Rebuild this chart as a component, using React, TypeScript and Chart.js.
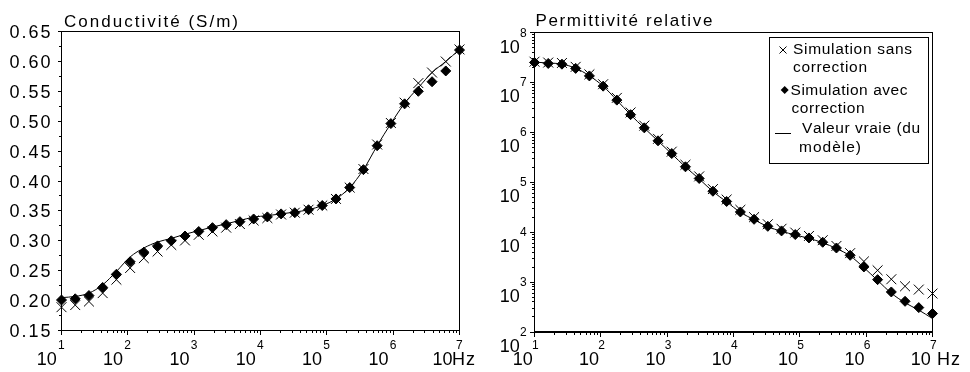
import React, { useEffect, useRef } from "react";
import { Chart, registerables } from "chart.js";

Chart.register(...registerables);

// ---------- DATA ----------
const FREQ_HZ = [
  10, 16.1, 25.93, 41.75, 67.23, 108.3, 174.3, 280.7, 452.0, 727.9,
  1172, 1887, 3039, 4894, 7880, 12690, 20434, 32903, 52983, 85317,
  137382, 221222, 356225, 573615, 923671, 1487352, 2395027, 3856620, 6210169, 10000000,
];

const COND_SANS = [
  0.189, 0.1925, 0.1985, 0.2125, 0.235, 0.2545, 0.271, 0.282, 0.293, 0.3005,
  0.31, 0.3155, 0.322, 0.328, 0.334, 0.338, 0.344, 0.347, 0.352, 0.359,
  0.37, 0.389, 0.42, 0.461, 0.497, 0.531, 0.5637, 0.5814, 0.5998, 0.62,
];
const COND_AVEC = [
  0.201, 0.203, 0.2085, 0.222, 0.244, 0.265, 0.281, 0.2915, 0.3, 0.308,
  0.3155, 0.322, 0.327, 0.332, 0.3365, 0.34, 0.345, 0.347, 0.352, 0.359,
  0.37, 0.389, 0.419, 0.459, 0.496, 0.529, 0.55, 0.566, 0.584, 0.619,
];
const COND_VRAIE = [
  0.205, 0.207, 0.2125, 0.2264, 0.2487, 0.273, 0.288, 0.298, 0.304, 0.311,
  0.317, 0.323, 0.3284, 0.334, 0.3396, 0.342, 0.345, 0.348, 0.352, 0.359,
  0.37, 0.389, 0.419, 0.459, 0.496, 0.53, 0.556, 0.5814, 0.5998, 0.62,
];

const PERM_SANS = [
  2.6e7, 2.5e7, 2.45e7, 2.05e7, 1.45e7, 9.2e6, 4.9e6, 2.5e6, 1.36e6, 7.4e5,
  4.1e5, 2.24e5, 1.31e5, 7.3e4, 4.5e4, 2.8e4, 2.0e4, 1.44e4, 1.17e4, 9800,
  8400, 6900, 5300, 3800, 2590, 1720, 1140, 824, 708, 589,
];
const PERM_AVEC = [
  2.51e7, 2.4e7, 2.32e7, 1.91e7, 1.35e7, 8.41e6, 4.42e6, 2.26e6, 1.23e6, 6.76e5,
  3.76e5, 2.04e5, 1.19e5, 6.61e4, 4.12e4, 2.54e4, 1.81e4, 1.31e4, 1.06e4, 8950,
  7660, 6280, 4820, 3440, 2010, 1120, 634, 412, 308, 234,
];
const PERM_VRAIE = [
  2.55e7, 2.45e7, 2.33e7, 1.92e7, 1.36e7, 8.4e6, 4.4e6, 2.25e6, 1.22e6, 6.7e5,
  3.7e5, 2.02e5, 1.17e5, 6.5e4, 4.05e4, 2.5e4, 1.78e4, 1.29e4, 1.04e4, 8800,
  7500, 6150, 4700, 3350, 1950, 1080, 600, 385, 275, 186,
];

const COND_TICKS = [0.15, 0.2, 0.25, 0.3, 0.35, 0.4, 0.45, 0.5, 0.55, 0.6, 0.65];
const COND_TICK_LABELS = ["0.15", "0.20", "0.25", "0.30", "0.35", "0.40", "0.45", "0.50", "0.55", "0.60", "0.65"];
const FREQ_EXPONENTS = [1, 2, 3, 4, 5, 6, 7];
const PERM_EXPONENTS = [2, 3, 4, 5, 6, 7, 8];

const TITLE_COND = "Conductivité (S/m)";
const TITLE_PERM = "Permittivité relative";
const UNIT_HZ = "Hz";
const LEGEND_SANS = ["Simulation sans", "correction"];
const LEGEND_AVEC = ["Simulation avec", "correction"];
const LEGEND_VRAIE = ["Valeur vraie (du", "modèle)"];

// ---------- DRAWING HELPERS ----------
const FONT = '"Liberation Sans", Arial, sans-serif';
const INK = "#000";

// draws text char by char; if fitWidth is given, spacing is chosen so the
// string spans that many pixels
function txt(
  ctx: CanvasRenderingContext2D,
  s: string,
  x: number,
  y: number,
  size: number,
  align: "left" | "right" = "left",
  fitWidth = 0
) {
  ctx.save();
  ctx.font = `${size}px ${FONT}`;
  ctx.textBaseline = "alphabetic";
  ctx.textAlign = "left";
  ctx.fillStyle = INK;
  const chars = Array.from(s);
  const widths = chars.map((c) => ctx.measureText(c).width);
  const natural = widths.reduce((a, b) => a + b, 0);
  const spacing = fitWidth > 0 && chars.length > 1 ? (fitWidth - natural) / (chars.length - 1) : 0;
  const total = natural + spacing * (chars.length - 1);
  let cx = align === "right" ? x - total : x;
  chars.forEach((c, i) => {
    ctx.fillText(c, cx, y);
    cx += widths[i] + spacing;
  });
  ctx.restore();
}

function hline(ctx: CanvasRenderingContext2D, x1: number, x2: number, y: number) {
  ctx.fillRect(Math.round(x1), Math.round(y - 0.5), Math.round(x2 - x1), 1);
}
function vline(ctx: CanvasRenderingContext2D, x: number, y1: number, y2: number) {
  ctx.fillRect(Math.round(x - 0.5), Math.round(y1), 1, Math.round(y2 - y1));
}

function drawLogXTicks(ctx: CanvasRenderingContext2D, xs: any, bottom: number) {
  FREQ_EXPONENTS.forEach((e) => {
    const maxM = e === FREQ_EXPONENTS[FREQ_EXPONENTS.length - 1] ? 1 : 9;
    for (let m = 1; m <= maxM; m++) {
      const px = xs.getPixelForValue(m * Math.pow(10, e));
      vline(ctx, px, bottom, bottom + (m === 1 ? 4 : 2));
    }
  });
}

function xy(vals: number[]) {
  return vals.map((v, i) => ({ x: FREQ_HZ[i], y: v }));
}

function datasets(sans: number[], avec: number[], vraie: number[]) {
  return [
    {
      label: "Simulation avec correction",
      data: xy(avec),
      showLine: false,
      pointStyle: "rectRot",
      pointRadius: 5,
      backgroundColor: INK,
      borderColor: INK,
      borderWidth: 1,
      clip: false,
    },
    {
      label: "Simulation sans correction",
      data: xy(sans),
      showLine: false,
      pointStyle: "crossRot",
      pointRadius: 7,
      backgroundColor: INK,
      borderColor: INK,
      borderWidth: 1,
      clip: false,
    },
    {
      label: "Valeur vraie (du modèle)",
      data: xy(vraie),
      showLine: true,
      pointRadius: 0,
      borderColor: INK,
      borderWidth: 1,
      cubicInterpolationMode: "monotone",
      clip: false,
    },
  ];
}

const W = 970;
const H = 372;

// ---------- LEFT CHART ----------
const leftPlugin = {
  id: "leftDeco",
  beforeDatasetsDraw(chart: any) {
    const ctx: CanvasRenderingContext2D = chart.ctx;
    const { left, right, top, bottom } = chart.chartArea;
    const xs = chart.scales.x;
    const ys = chart.scales.y;
    ctx.save();
    ctx.fillStyle = INK;
    hline(ctx, left - 0.5, right + 0.5, top);
    hline(ctx, left - 0.5, right + 0.5, bottom);
    vline(ctx, left, top - 0.5, bottom + 0.5);
    vline(ctx, right, top - 0.5, bottom + 0.5);
    for (let k = 0; k < COND_TICKS.length; k++) {
      const py = ys.getPixelForValue(COND_TICKS[k]);
      hline(ctx, left - 3.5, left, py);
      if (k < COND_TICKS.length - 1) {
        const pm = ys.getPixelForValue((COND_TICKS[k] + COND_TICKS[k + 1]) / 2);
        hline(ctx, left - 2.5, left, pm);
      }
    }
    drawLogXTicks(ctx, xs, bottom + 0.5);
    ctx.restore();

    COND_TICKS.forEach((v, k) => {
      const py = ys.getPixelForValue(v);
      txt(ctx, COND_TICK_LABELS[k], 50.5, py + 6.5, 18, "right", 41);
    });
    FREQ_EXPONENTS.forEach((e, k) => {
      const px = xs.getPixelForValue(Math.pow(10, e));
      const last = k === FREQ_EXPONENTS.length - 1;
      if (last) {
        txt(ctx, "10", px - 7, 365, 18, "right");
        txt(ctx, UNIT_HZ, px - 7.4, 365, 18, "left", 23);
      } else {
        txt(ctx, "10", px - 4.7, 365, 18, "right");
      }
      txt(ctx, String(e), px - 3.5, 348.5, 12, "left");
    });
    txt(ctx, TITLE_COND, 64, 27, 17, "left", 174);
  },
};

// ---------- RIGHT CHART ----------
const rightPlugin = {
  id: "rightDeco",
  beforeDatasetsDraw(chart: any) {
    const ctx: CanvasRenderingContext2D = chart.ctx;
    const { left, right, top, bottom } = chart.chartArea;
    const xs = chart.scales.x;
    const ys = chart.scales.y;
    ctx.save();
    ctx.fillStyle = INK;
    hline(ctx, left - 0.5, right + 0.5, top);
    vline(ctx, left, top - 0.5, bottom + 1);
    vline(ctx, right, top - 0.5, bottom + 1);
    ctx.fillRect(Math.round(left - 0.5), Math.round(bottom - 1), Math.round(right - left + 1), 2);
    PERM_EXPONENTS.forEach((e, k) => {
      const maxM = k === PERM_EXPONENTS.length - 1 ? 1 : 9;
      for (let m = 1; m <= maxM; m++) {
        const py = ys.getPixelForValue(m * Math.pow(10, e));
        hline(ctx, left - (m === 1 ? 4.5 : 2.5), left, py);
      }
    });
    drawLogXTicks(ctx, xs, bottom + 0.5);
    ctx.restore();

    PERM_EXPONENTS.forEach((e) => {
      const py = ys.getPixelForValue(Math.pow(10, e));
      txt(ctx, "10", 519.8, py + 20, 18, "right");
      txt(ctx, String(e), 520, py + 4, 12, "left");
    });
    FREQ_EXPONENTS.forEach((e, k) => {
      const px = xs.getPixelForValue(Math.pow(10, e));
      txt(ctx, "10", px - 1.7, 365, 18, "right");
      txt(ctx, String(e), px - 2.5, 348.5, 12, "left");
      if (k === FREQ_EXPONENTS.length - 1) {
        txt(ctx, UNIT_HZ, px + 4.6, 365, 18, "left", 23);
      }
    });
    txt(ctx, TITLE_PERM, 535.4, 26, 17, "left", 177);
  },
  afterDraw(chart: any) {
    const ctx: CanvasRenderingContext2D = chart.ctx;
    ctx.save();
    ctx.fillStyle = "#fff";
    ctx.fillRect(770, 38, 158, 125);
    ctx.strokeStyle = INK;
    ctx.lineWidth = 1;
    ctx.strokeRect(769.5, 37.5, 159, 126);
    ctx.beginPath();
    ctx.moveTo(779.5, 46.5);
    ctx.lineTo(786.5, 53.5);
    ctx.moveTo(786.5, 46.5);
    ctx.lineTo(779.5, 53.5);
    ctx.stroke();
    ctx.fillStyle = INK;
    ctx.beginPath();
    ctx.moveTo(784.7, 86);
    ctx.lineTo(788.7, 90);
    ctx.lineTo(784.7, 94);
    ctx.lineTo(780.7, 90);
    ctx.closePath();
    ctx.fill();
    ctx.fillRect(775, 133, 16, 1);
    ctx.restore();

    txt(ctx, LEGEND_SANS[0], 793, 54, 15.5, "left", 119);
    txt(ctx, LEGEND_SANS[1], 793, 72, 15.5, "left", 74);
    txt(ctx, LEGEND_AVEC[0], 790.5, 94.5, 15.5, "left", 117);
    txt(ctx, LEGEND_AVEC[1], 791.5, 113, 15.5, "left", 73);
    txt(ctx, LEGEND_VRAIE[0], 802, 133, 15.5, "left", 118);
    txt(ctx, LEGEND_VRAIE[1], 799, 151.5, 15.5, "left", 62);
  },
};

function makeConfig(
  sans: number[],
  avec: number[],
  vraie: number[],
  yScale: any,
  area: { left: number; right: number; top: number; bottom: number },
  plugin: any
): any {
  return {
    type: "scatter",
    data: { datasets: datasets(sans, avec, vraie) },
    options: {
      animation: false,
      responsive: false,
      devicePixelRatio: 1,
      events: [],
      layout: {
        padding: {
          left: area.left,
          right: W - area.right,
          top: area.top,
          bottom: H - area.bottom,
        },
      },
      plugins: { legend: { display: false }, title: { display: false }, tooltip: { enabled: false } },
      scales: {
        x: { type: "logarithmic", min: 10, max: 1e7, display: false },
        y: { ...yScale, display: false },
      },
    },
    plugins: [plugin],
  };
}

export default function App() {
  const leftRef = useRef<HTMLCanvasElement>(null);
  const rightRef = useRef<HTMLCanvasElement>(null);

  useEffect(() => {
    const c1 = new Chart(
      leftRef.current as HTMLCanvasElement,
      makeConfig(
        COND_SANS,
        COND_AVEC,
        COND_VRAIE,
        { type: "linear", min: 0.15, max: 0.65 },
        { left: 61.5, right: 459.5, top: 31.5, bottom: 330.5 },
        leftPlugin
      )
    );
    const c2 = new Chart(
      rightRef.current as HTMLCanvasElement,
      makeConfig(
        PERM_SANS,
        PERM_AVEC,
        PERM_VRAIE,
        { type: "logarithmic", min: 100, max: 1e8 },
        { left: 534.5, right: 932.5, top: 32.5, bottom: 332 },
        rightPlugin
      )
    );
    return () => {
      c1.destroy();
      c2.destroy();
    };
  }, []);

  return (
    <div style={{ position: "fixed", left: 0, top: 0, width: W, height: H, background: "#fff" }}>
      <canvas ref={leftRef} width={W} height={H} style={{ position: "absolute", left: 0, top: 0 }} />
      <canvas ref={rightRef} width={W} height={H} style={{ position: "absolute", left: 0, top: 0 }} />
    </div>
  );
}
